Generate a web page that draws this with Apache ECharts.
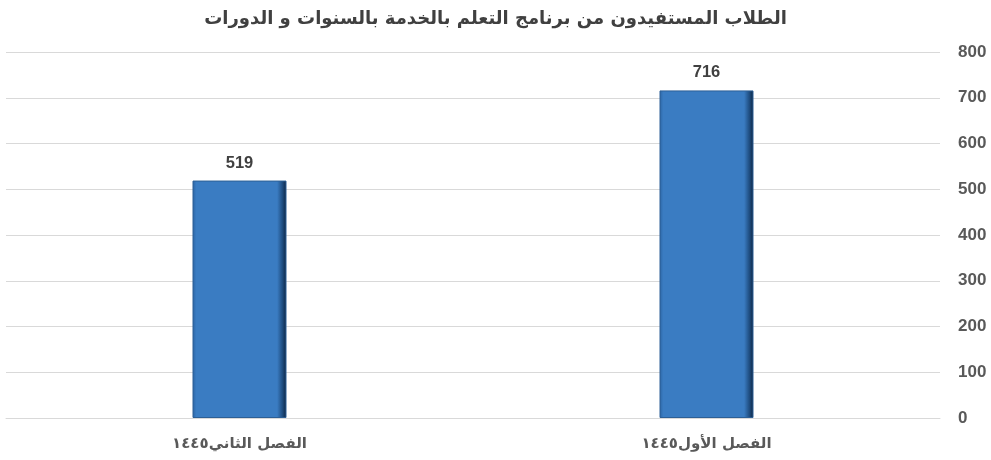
<!DOCTYPE html>
<html>
<head>
<meta charset="utf-8">
<script src="https://cdn.jsdelivr.net/npm/echarts@6/dist/echarts.min.js"></script>
<style>html,body{margin:0;padding:0;background:#fff}#c{width:991px;height:460px}</style>
</head>
<body>
<div id="c"></div>
<script>
const titleText = 'الطلاب المستفيدون من برنامج التعلم بالخدمة بالسنوات و الدورات';
const categories = ['الفصل الأول١٤٤٥', 'الفصل الثاني١٤٤٥'];
const values = [716, 519];
const yTicks = [0, 100, 200, 300, 400, 500, 600, 700, 800];

const chart = echarts.init(document.getElementById('c'), null, {renderer: 'canvas'});
chart.setOption({
  animation: false,
  backgroundColor: '#ffffff',
  title: {
    text: titleText,
    left: 'center',
    top: 5,
    textStyle: {fontFamily: 'DejaVu Sans, sans-serif', fontSize: 18, fontWeight: 'bold', color: '#404040'}
  },
  grid: {left: 6, right: 51, top: 52, bottom: 42, containLabel: false},
  xAxis: {
    type: 'category',
    inverse: true,
    data: categories,
    axisLine: {show: true, lineStyle: {color: '#d9d9d9', width: 1}},
    axisTick: {show: false},
    axisLabel: {margin: 19, fontFamily: 'DejaVu Sans, sans-serif', fontSize: 15, fontWeight: 'bold', color: '#595959'}
  },
  yAxis: {
    type: 'value',
    position: 'right',
    min: yTicks[0],
    max: yTicks[yTicks.length - 1],
    interval: 100,
    axisLine: {show: false},
    axisTick: {show: false},
    splitLine: {lineStyle: {color: '#d9d9d9', width: 1}},
    axisLabel: {margin: 18, align: 'left', fontFamily: 'Liberation Sans, Arial, sans-serif', fontSize: 17, fontWeight: 'bold', color: '#595959'}
  },
  series: [{
    type: 'bar',
    data: values,
    barWidth: 94,
    itemStyle: {
      color: new echarts.graphic.LinearGradient(0, 0, 1, 0, [
        {offset: 0, color: '#2b64a3'},
        {offset: 0.04, color: '#3a7cc2'},
        {offset: 0.9, color: '#3a7cc2'},
        {offset: 0.96, color: '#1d4a7c'},
        {offset: 1, color: '#0d2440'}
      ]),
      borderColor: '#2c5f96',
      borderWidth: 1
    },
    label: {
      show: true,
      position: 'top',
      distance: 9,
      fontFamily: 'Liberation Sans, Arial, sans-serif',
      fontSize: 16.5,
      fontWeight: 'bold',
      color: '#404040'
    }
  }]
});
</script>
</body>
</html>
